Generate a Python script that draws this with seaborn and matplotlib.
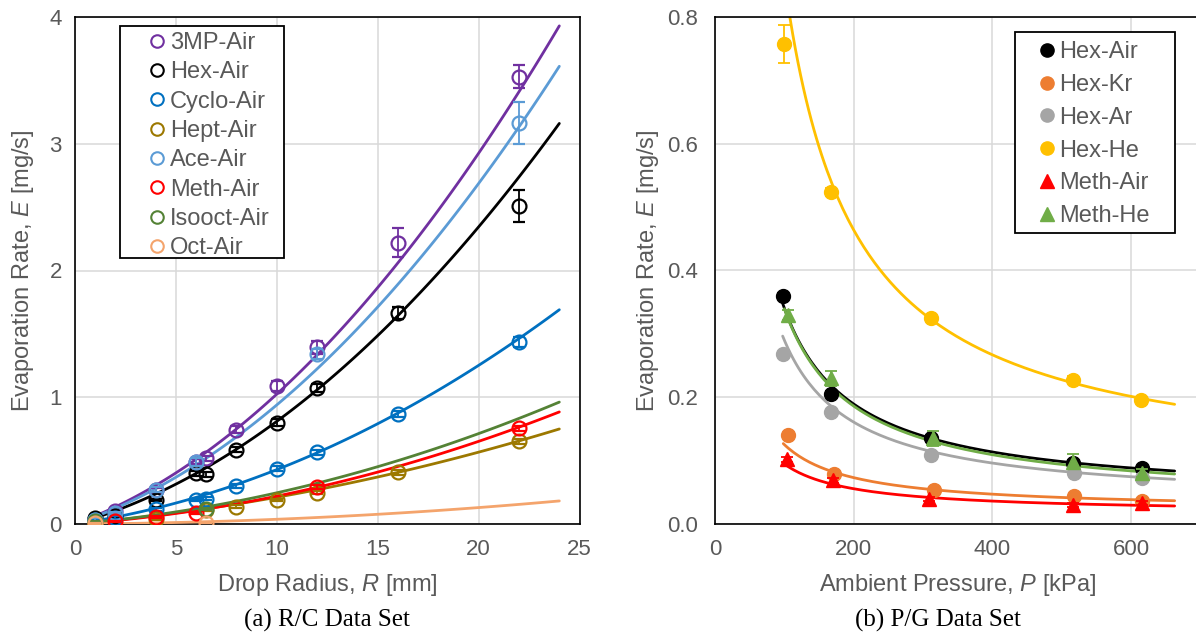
import numpy as np
import pandas as pd
import seaborn as sns
from matplotlib import pyplot as plt
from matplotlib.lines import Line2D
from matplotlib.patches import Rectangle
from matplotlib.ticker import MultipleLocator, FormatStrFormatter

# ---- (a) R/C data set: evaporation rate vs drop radius ----
rc_names = ["3MP-Air", "Hex-Air", "Cyclo-Air", "Hept-Air",
            "Ace-Air", "Meth-Air", "Isooct-Air", "Oct-Air"]
rc_colors = ["#7030A0", "#000000", "#0070C0", "#9C7800",
             "#5B9BD5", "#FF0000", "#548235", "#F4A46C"]

r_3mp = [1, 2, 4, 6, 6.5, 8, 10, 12, 16, 22]
e_3mp = [0.04, 0.10, 0.265, 0.49, 0.52, 0.745, 1.088, 1.395, 2.22, 3.53]
err_3mp = [0.01, 0.01, 0.02, 0.02, 0.02, 0.03, 0.04, 0.05, 0.115, 0.088]

r_hex = [1, 2, 4, 6, 6.5, 8, 10, 12, 16, 22]
e_hex = [0.045, 0.065, 0.19, 0.40, 0.393, 0.585, 0.80, 1.075, 1.666, 2.51]
err_hex = [0.01, 0.01, 0.01, 0.02, 0.02, 0.02, 0.03, 0.03, 0.045, 0.126]

r_cyclo = [1, 2, 4, 6, 6.5, 8, 10, 12, 16, 22]
e_cyclo = [0.03, 0.05, 0.116, 0.19, 0.20, 0.30, 0.435, 0.567, 0.87, 1.435]
err_cyclo = [0.005, 0.01, 0.01, 0.01, 0.01, 0.015, 0.02, 0.02, 0.025, 0.04]

r_hept = [1, 4, 6.5, 8, 10, 12, 16, 22]
e_hept = [0.01, 0.04, 0.111, 0.137, 0.19, 0.248, 0.409, 0.651]
err_hept = [0.005, 0.005, 0.01, 0.01, 0.01, 0.015, 0.02, 0.02]

r_ace = [1, 2, 4, 6, 12, 22]
e_ace = [0.035, 0.085, 0.27, 0.49, 1.344, 3.165]
err_ace = [0.01, 0.01, 0.02, 0.03, 0.04, 0.167]

r_meth = [2, 4, 6, 12, 22]
e_meth = [0.02, 0.055, 0.085, 0.295, 0.757]
err_meth = [0.005, 0.01, 0.01, 0.015, 0.02]

r_isooct = [1, 6.5]
e_isooct = [0.02, 0.12]
err_isooct = [0.005, 0.01]

r_oct = [1, 6.5]
e_oct = [0.005, 0.01]
err_oct = [0.003, 0.005]

# model lines E = a*R + b*R^2 (coefficients)
rc_lin = [0.05875, 0.0448, 0.02325, 0.01386, 0.0536, 0.0114, 0.01358, 0.00098]
rc_quad = [0.004375, 0.00362, 0.001966, 0.000724, 0.004036, 0.00106, 0.001104, 0.000275]

# ---- (b) P/G data set: evaporation rate vs ambient pressure ----
pg_names = ["Hex-Air", "Hex-Kr", "Hex-Ar", "Hex-He", "Meth-Air", "Meth-He"]
pg_colors = ["#000000", "#ED7D31", "#A5A5A5", "#FFC000", "#FF0000", "#70AD47"]
pg_markers = ["o", "o", "o", "o", "^", "^"]

p_hexair = [97.6, 168, 312, 516, 616]
e_hexair = [0.360, 0.205, 0.135, 0.097, 0.088]
err_hexair = [0.005, 0.005, 0.005, 0.004, 0.004]

p_hexkr = [105.7, 172, 316, 518, 616]
e_hexkr = [0.140, 0.079, 0.054, 0.044, 0.036]
err_hexkr = [0.004, 0.003, 0.003, 0.003, 0.003]

p_hexar = [97.6, 168, 312, 518, 616]
e_hexar = [0.268, 0.176, 0.109, 0.080, 0.072]
err_hexar = [0.004, 0.004, 0.003, 0.003, 0.003]

p_hexhe = [99.5, 168, 312, 516, 614]
e_hexhe = [0.757, 0.524, 0.325, 0.228, 0.196]
err_hexhe = [0.030, 0.006, 0.005, 0.005, 0.004]

p_methair = [104, 170.6, 309, 516, 616]
e_methair = [0.102, 0.069, 0.040, 0.030, 0.033]
err_methair = [0.004, 0.004, 0.003, 0.003, 0.003]

p_methhe = [105.7, 168, 315, 516, 616]
e_methhe = [0.330, 0.230, 0.135, 0.098, 0.080]
err_methhe = [0.008, 0.012, 0.012, 0.012, 0.006]

# model lines E = c + d/P
pg_const = [0.038, 0.021, 0.0315, 0.070, 0.0167, 0.0326]
pg_inv = [30.26, 10.43, 25.86, 78.8, 7.79, 30.7]
pg_start = [97.6, 98.5, 97.6, 97.0, 98.5, 100.0]
pg_end = 663


def style_axes(ax):
    ax.grid(True, which="major", color="#D9D9D9", linewidth=1.1)
    ax.set_axisbelow(True)
    for side in ["left", "bottom", "top", "right"]:
        ax.spines[side].set_color("black")
        ax.spines[side].set_linewidth(1.2)
    ax.tick_params(which="major", direction="inout", length=9, width=1.2,
                   colors="black", labelcolor="#595959", labelsize=16)
    ax.tick_params(which="minor", direction="out", length=4, width=1.2, colors="black")


def boxed_legend(ax, handles, box, anchor, spacing):
    # Excel-like legend: plain black box, entries placed inside it
    ax.add_patch(Rectangle(box[:2], box[2], box[3], transform=ax.transAxes,
                           facecolor="white", edgecolor="black", linewidth=1.3,
                           zorder=6, clip_on=False))
    leg = ax.legend(handles=handles, loc="upper left", bbox_to_anchor=anchor,
                    borderaxespad=0, borderpad=0, fontsize=17, frameon=False,
                    labelcolor="#595959", handlelength=1.0, handletextpad=0.05,
                    labelspacing=spacing)
    leg.set_zorder(7)
    return leg


sns.set_style("white")
plt.rcParams["font.family"] = ["Liberation Sans", "DejaVu Sans"]
plt.rcParams["mathtext.fontset"] = "custom"
plt.rcParams["mathtext.rm"] = "Liberation Sans"
plt.rcParams["mathtext.it"] = "Liberation Sans:italic"

fig = plt.figure(figsize=(11.96, 6.37), dpi=100)
ax1 = fig.add_axes([75 / 1196, 113 / 637, 504.5 / 1196, 507 / 637])
ax2 = fig.add_axes([715 / 1196, 113 / 637, 485.3 / 1196, 507 / 637])

# ---- panel (a) ----
rc_r = [r_3mp, r_hex, r_cyclo, r_hept, r_ace, r_meth, r_isooct, r_oct]
rc_e = [e_3mp, e_hex, e_cyclo, e_hept, e_ace, e_meth, e_isooct, e_oct]
rc_err = [err_3mp, err_hex, err_cyclo, err_hept, err_ace, err_meth, err_isooct, err_oct]

grid_r = np.linspace(1, 24, 120)
rc_lines = pd.concat([
    pd.DataFrame({"R": grid_r, "E": a * grid_r + b * grid_r ** 2, "fluid": n})
    for n, a, b in zip(rc_names, rc_lin, rc_quad)
])

handles = []
for i, (name, col) in enumerate(zip(rc_names, rc_colors)):
    sns.lineplot(data=rc_lines[rc_lines.fluid == name], x="R", y="E", color=col,
                 linewidth=2.0, ax=ax1, legend=False, zorder=2 + i * 0.1)
    ax1.errorbar(rc_r[i], rc_e[i], yerr=rc_err[i], fmt="o", ms=10, mfc="none",
                 mec=col, mew=1.6, ecolor=col, elinewidth=1.3, capsize=4.5,
                 capthick=1.3, zorder=3 + i * 0.1)
    handles.append(Line2D([], [], ls="none", marker="o", ms=9, mfc="none",
                          mec=col, mew=1.5, label=name))

ax1.set_xlim(0, 25)
ax1.set_ylim(0, 4)
ax1.xaxis.set_major_locator(MultipleLocator(5))
ax1.xaxis.set_minor_locator(MultipleLocator(1))
ax1.yaxis.set_major_locator(MultipleLocator(1))
ax1.yaxis.set_minor_locator(MultipleLocator(0.2))
style_axes(ax1)
ax1.tick_params(axis="x", which="major", pad=6)
ax1.tick_params(axis="y", which="major", pad=5)
ax1.set_xlabel("Drop Radius, $R$ [mm]", fontsize=17, color="#595959")
ax1.set_ylabel("Evaporation Rate, $E$ [mg/s]", fontsize=17, color="#595959")
ax1.xaxis.set_label_coords(0.5, -0.095)
ax1.yaxis.set_label_coords(-0.077, 0.5)

boxed_legend(ax1, handles, (0.0892, 0.5252, 0.325, 0.457), (0.1386, 0.9704), 0.31)

# ---- panel (b) ----
pg_p = [p_hexair, p_hexkr, p_hexar, p_hexhe, p_methair, p_methhe]
pg_e = [e_hexair, e_hexkr, e_hexar, e_hexhe, e_methair, e_methhe]
pg_err = [err_hexair, err_hexkr, err_hexar, err_hexhe, err_methair, err_methhe]

pg_lines = []
for n, c, d, p0 in zip(pg_names, pg_const, pg_inv, pg_start):
    grid_p = np.linspace(p0, pg_end, 150)
    pg_lines.append(pd.DataFrame({"P": grid_p, "E": c + d / grid_p, "fluid": n}))
pg_lines = pd.concat(pg_lines)

handles2 = []
for i, (name, col, mk) in enumerate(zip(pg_names, pg_colors, pg_markers)):
    sns.lineplot(data=pg_lines[pg_lines.fluid == name], x="P", y="E", color=col,
                 linewidth=2.0, ax=ax2, legend=False, zorder=2 + i * 0.1)
    ms = 10 if mk == "o" else 10.5
    ax2.errorbar(pg_p[i], pg_e[i], yerr=pg_err[i], fmt=mk, ms=ms, mfc=col,
                 mec=col, ecolor=col, elinewidth=1.3, capsize=4.5,
                 capthick=1.3, zorder=3 + i * 0.1)
    handles2.append(Line2D([], [], ls="none", marker=mk, ms=ms - 0.5, mfc=col,
                           mec=col, label=name))

ax2.set_xlim(0, 700)
ax2.set_ylim(0, 0.8)
ax2.set_xticks([0, 200, 400, 600])
ax2.xaxis.set_minor_locator(MultipleLocator(50))
ax2.yaxis.set_major_locator(MultipleLocator(0.2))
ax2.yaxis.set_minor_locator(MultipleLocator(0.05))
ax2.yaxis.set_major_formatter(FormatStrFormatter("%.1f"))
style_axes(ax2)
ax2.spines["right"].set_visible(False)
ax2.tick_params(axis="x", which="major", pad=6)
ax2.tick_params(axis="y", which="major", pad=8)
ax2.set_xlabel("Ambient Pressure, $P$ [kPa]", fontsize=17, color="#595959")
ax2.set_ylabel("Evaporation Rate, $E$ [mg/s]", fontsize=17, color="#595959")
ax2.xaxis.set_label_coords(0.5, -0.095)
ax2.yaxis.set_label_coords(-0.112, 0.5)

boxed_legend(ax2, handles2, (0.6182, 0.5749, 0.3297, 0.3965), (0.659, 0.9527), 0.46)

# captions
fig.text(327 / 1196, 1 - 620 / 637, "(a) R/C Data Set", ha="center", va="center",
         fontsize=18, family="Liberation Serif", color="black")
fig.text(938 / 1196, 1 - 620 / 637, "(b) P/G Data Set", ha="center", va="center",
         fontsize=18, family="Liberation Serif", color="black")

plt.savefig("out.png", dpi=100)
plt.close()
